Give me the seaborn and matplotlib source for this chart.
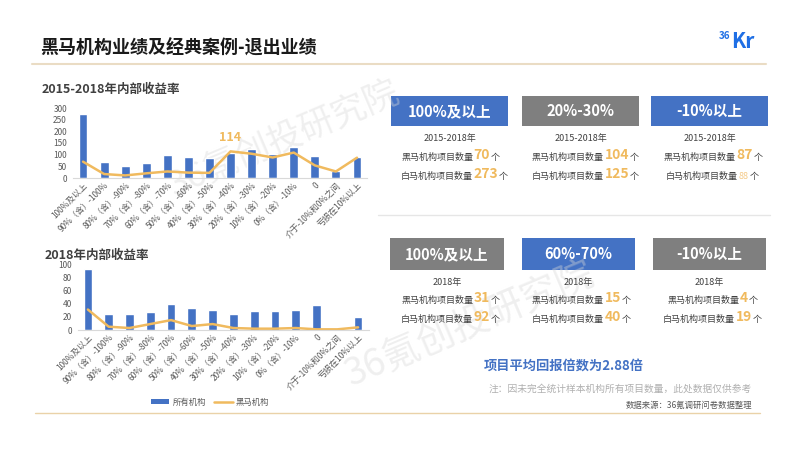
import numpy as np
import pandas as pd
import matplotlib
matplotlib.use("Agg")
import matplotlib.pyplot as plt
import seaborn as sns
from matplotlib.lines import Line2D
from matplotlib.patches import Patch, Rectangle

sns.set_theme(style="white")
plt.rcParams['font.family'] = ['Noto Sans CJK SC', 'DejaVu Sans']

# ---------------- data ----------------
categories = ["100%及以上", "90%（含）-100%", "80%（含）-90%", "70%（含）-80%",
              "60%（含）-70%", "50%（含）-60%", "40%（含）-50%", "30%（含）-40%",
              "20%（含）-30%", "10%（含）-20%", "0%（含）-10%", "0",
              "介于-10%和0%之间", "亏损在10%以上"]
all_1518 = [273, 67, 52, 64, 97, 90, 86, 109, 125, 102, 133, 93, 30, 88]
dark_1518 = [70, 17, 11, 20, 28, 23, 22, 114, 104, 88, 109, 54, 28, 87]
all_2018 = [92, 24, 24, 28, 40, 33, 31, 24, 29, 29, 30, 38, 1, 19]
dark_2018 = [31, 5, 3, 9, 15, 6, 9, 3, 2, 2, 3, 1, 1, 4]

box_titles_top = ["100%及以上", "20%-30%", "-10%以上"]
dark_counts_top = [70, 104, 87]
white_counts_top = [273, 125, 88]
box_titles_bot = ["100%及以上", "60%-70%", "-10%以上"]
dark_counts_bot = [31, 15, 4]
white_counts_bot = [92, 40, 19]

BLUE = "#4472C4"
ORANGE = "#F0BA5E"
GRAY = "#7F7F7F"
TXT = "#404040"

W, H = 800, 450
fig = plt.figure(figsize=(8, 4.5), dpi=100)
fig.patch.set_facecolor("white")

# overlay axes in pixel coordinates
ov = fig.add_axes([0, 0, 1, 1])
ov.set_xlim(0, W)
ov.set_ylim(H, 0)
ov.axis("off")

# watermarks
ov.text(285, 140, "36氪创投研究院", fontsize=25, color="#d8d8d8", alpha=0.4,
        rotation=23, ha="center", va="center")
ov.text(470, 325, "36氪创投研究院", fontsize=27, color="#d8d8d8", alpha=0.4,
        rotation=23, ha="center", va="center")

# header
ov.text(40, 48, "黑马机构业绩及经典案例-退出业绩", fontsize=13, fontweight="bold",
        color="#1a1a1a", ha="left", va="center")
ov.plot([32, 766], [64, 64], color="#eadcc4", lw=1.5)
ov.text(719, 36, "36", fontsize=7, color="#1f6fe5", ha="left", va="center", fontweight="bold")
ov.text(731, 41, "Kr", fontsize=15, color="#1f6fe5", ha="left", va="center", fontweight="bold")

# chart titles
ov.text(42, 89, "2015-2018年内部收益率", fontsize=9, fontweight="bold", color=TXT,
        ha="left", va="center")
ov.text(45, 255, "2018年内部收益率", fontsize=9, fontweight="bold", color=TXT,
        ha="left", va="center")

# separators
ov.plot([378, 770], [215, 215], color="#e6e6e6", lw=1)
ov.plot([35, 760], [413, 413], color="#ead2a8", lw=1)


def fx(x):
    return x / W


def fy(y):
    return 1 - y / H


def draw_chart(rect_px, all_vals, dark_vals, ymax, step):
    l, t, r, b = rect_px
    ax = fig.add_axes([fx(l), fy(b), fx(r) - fx(l), (b - t) / H])
    ax.patch.set_alpha(0)
    df = pd.DataFrame({"cat": categories, "all": all_vals, "dark": dark_vals})
    sns.barplot(data=df, x="cat", y="all", color=BLUE, width=0.42, ax=ax,
                saturation=1)
    sns.lineplot(x=np.arange(len(categories)), y=df["dark"].values, color=ORANGE,
                 lw=1.8, ax=ax)
    ax.set_ylim(0, ymax)
    ax.set_xlim(-0.5, len(categories) - 0.5)
    ax.set_yticks(np.arange(0, ymax + 1, step))
    ax.set_xlabel("")
    ax.set_ylabel("")
    ax.tick_params(axis="y", labelsize=6, colors="#595959", length=0, pad=4)
    ax.tick_params(axis="x", labelsize=6, colors="#595959", length=0, pad=2)
    ax.set_xticks(np.arange(len(categories)))
    ax.set_xticklabels(categories, rotation=45, ha="right", rotation_mode="anchor")
    for s in ["top", "right", "left"]:
        ax.spines[s].set_visible(False)
    ax.spines["bottom"].set_color("#d9d9d9")
    ax.spines["bottom"].set_linewidth(0.8)
    return ax


ax1 = draw_chart((72.5, 108, 367.5, 178), all_1518, dark_1518, 300, 50)
idx = 7
ax1.annotate(str(dark_1518[idx]), xy=(idx, dark_1518[idx]), xytext=(0, 5),
             textcoords="offset points", ha="center", va="bottom",
             fontsize=9, fontweight="bold", color=ORANGE)

ax2 = draw_chart((77.5, 264, 368.5, 330), all_2018, dark_2018, 100, 20)

handles = [Patch(facecolor=BLUE, edgecolor="none"),
           Line2D([0], [0], color=ORANGE, lw=1.8)]
fig.legend(handles, ["所有机构", "黑马机构"], loc="center",
           bbox_to_anchor=(fx(210), fy(402)), ncol=2, frameon=False,
           fontsize=6, handlelength=2.2, handleheight=0.6, columnspacing=1.0,
           handletextpad=0.4, labelcolor="#595959")


# right side boxes
def chained(x, y, parts):
    prev = None
    for txt, size, color, weight in parts:
        if prev is None:
            prev = ov.text(x, y, txt, fontsize=size, color=color, fontweight=weight,
                           ha="left", va="baseline")
        else:
            prev = ov.annotate(txt, xy=(1, 0), xycoords=prev, xytext=(0.5, 0),
                               textcoords="offset points", fontsize=size,
                               color=color, fontweight=weight, ha="left", va="bottom")


def box_row(boxes, titles, colors, year, y_box, y_year, lines_y, dark_c, white_c,
            starts, small_last=False):
    for i, ((x0, x1), title, col) in enumerate(zip(boxes, titles, colors)):
        ov.add_patch(Rectangle((x0, y_box[0]), x1 - x0, y_box[1] - y_box[0],
                               facecolor=col, edgecolor="none"))
        cx = (x0 + x1) / 2
        ov.text(cx, (y_box[0] + y_box[1]) / 2, title, fontsize=10.5, fontweight="bold",
                color="white", ha="center", va="center")
        ov.text(cx, y_year, year, fontsize=6.5, color=TXT, ha="center", va="center")
        s1, s2 = starts[i]
        chained(s1, lines_y[0], [("黑马机构项目数量", 6.5, TXT, "normal"),
                                 (str(dark_c[i]), 10, ORANGE, "bold"),
                                 ("个", 6.5, TXT, "normal")])
        if small_last and i == 2:
            wparts = [("白马机构项目数量", 6.5, TXT, "normal"),
                      (str(white_c[i]), 6.5, "#F5CB8A", "normal"),
                      ("个", 6.5, TXT, "normal")]
        else:
            wparts = [("白马机构项目数量", 6.5, TXT, "normal"),
                      (str(white_c[i]), 10, ORANGE, "bold"),
                      ("个", 6.5, TXT, "normal")]
        chained(s2, lines_y[1], wparts)


box_row([(391, 508), (522, 639), (651, 768)], box_titles_top, [BLUE, GRAY, BLUE],
        "2015-2018年", (96, 126), 138, (160, 179), dark_counts_top, white_counts_top,
        [(401, 401), (532, 532), (664, 666)], small_last=True)
box_row([(390, 504), (522, 635), (653, 766)], box_titles_bot, [GRAY, BLUE, GRAY],
        "2018年", (238, 270), 283, (303, 322), dark_counts_bot, white_counts_bot,
        [(401, 401), (532, 532), (667, 663)])

ov.text(564, 366, "项目平均回报倍数为2.88倍", fontsize=9.5, fontweight="bold",
        color=BLUE, ha="center", va="center")
ov.text(752, 389, "注：因未完全统计样本机构所有项目数量，此处数据仅供参考", fontsize=7,
        color="#b0b0b0", ha="right", va="center")
ov.text(752, 405, "数据来源：36氪调研问卷数据整理", fontsize=6, color="#595959",
        ha="right", va="center")

fig.savefig("out.png", dpi=100)
